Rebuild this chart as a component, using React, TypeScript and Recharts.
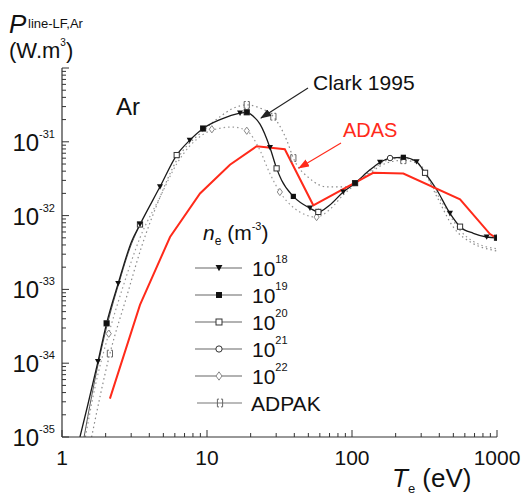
import React from 'react';
import { ComposedChart, Line, Scatter, XAxis, YAxis } from 'recharts';

// ---- data: T (eV) and log10(P) (W.m3) ----
const clarkT = [1.33, 1.5, 1.77, 2.03, 2.44, 3.02, 3.45, 4.74, 6.18, 7.6, 9.4, 12.3, 16.9, 18.8, 21, 23.2, 27.2, 30.2, 32.7, 39.4, 51.3, 58.6, 70, 87, 105, 133, 156, 183, 226, 279, 319, 384, 474, 556, 687, 849, 1000];
const clarkLogP = [-35.0, -34.58, -33.98, -33.46, -32.92, -32.35, -32.12, -31.61, -31.18, -30.98, -30.82, -30.70, -30.61, -30.60, -30.66, -30.76, -31.08, -31.36, -31.52, -31.74, -31.90, -31.95, -31.86, -31.68, -31.56, -31.38, -31.28, -31.22, -31.21, -31.27, -31.42, -31.65, -31.97, -32.15, -32.24, -32.29, -32.30];

const hiDensT = [1.42, 1.6, 1.85, 2.1, 2.44, 3.02, 3.45];
const hiDensLogP = [-35.0, -34.45, -33.85, -33.4, -32.95, -32.38, -32.13];

const adasT = [2.14, 3.45, 5.56, 8.95, 14.4, 22, 34.4, 54.1, 140, 226, 556, 895, 1000];
const adasLogP = [-34.48, -33.21, -32.29, -31.70, -31.31, -31.06, -31.10, -31.86, -31.42, -31.43, -31.78, -32.25, -32.31];

const adpakT = [1.6, 2.14, 2.79, 3.5, 4.74, 6.18, 9.4, 12.3, 15, 18.8, 23, 28.7, 35.5, 39.4, 51.3, 66.8, 92, 126, 172, 226, 293, 384, 497, 687, 944, 1000];
const adpakLogP = [-35.0, -33.87, -33.1, -32.45, -31.75, -31.25, -30.85, -30.66, -30.55, -30.50, -30.54, -30.66, -30.98, -31.22, -31.50, -31.61, -31.61, -31.45, -31.29, -31.25, -31.31, -31.74, -32.15, -32.38, -32.47, -32.48];

const n22T = [1.45, 1.7, 2.1, 2.6, 3.45, 4.74, 6.18, 9.4, 12, 15, 18.8, 23, 27, 31.8, 40, 57, 70, 87, 105, 133, 183, 226, 279, 319, 384, 474, 556, 687, 1000];
const n22LogP = [-35.0, -34.3, -33.6, -33.0, -32.3, -31.75, -31.3, -30.9, -30.82, -30.80, -30.85, -31.1, -31.42, -31.68, -31.9, -32.02, -31.92, -31.72, -31.58, -31.40, -31.24, -31.22, -31.28, -31.44, -31.7, -32.0, -32.2, -32.35, -32.45];

// marker positions
const n18MarkT = [1.77, 2.44, 3.45, 4.74, 7.6, 16.9, 27.2, 51.3, 87, 156, 279, 474, 849];
const n18MarkLogP = [-33.98, -32.92, -32.12, -31.61, -30.98, -30.61, -31.08, -31.90, -31.68, -31.28, -31.27, -31.97, -32.29];
const n19MarkT = [2.03, 9.4, 18.8, 39.4, 105, 226, 1000];
const n19MarkLogP = [-33.46, -30.82, -30.60, -31.74, -31.56, -31.21, -32.30];
const n20MarkT = [2.03, 3.45, 6.18, 9.4, 18.8, 30.2, 58.6, 105, 319, 556, 1000];
const n20MarkLogP = [-33.46, -32.12, -31.18, -30.82, -30.60, -31.36, -31.95, -31.56, -31.42, -32.15, -32.30];
const n21MarkT = [58.6, 183, 1000];
const n21MarkLogP = [-31.95, -31.22, -32.30];
const n22MarkT = [2.1, 10.8, 18.8, 31.8, 57];
const n22MarkLogP = [-33.6, -30.83, -30.85, -31.68, -32.02];
const adpakMarkT = [2.14, 18.8, 28.7, 39.4, 226];
const adpakMarkLogP = [-33.87, -30.50, -30.66, -31.22, -31.25];

const xMajor = [1, 10, 100, 1000];
const xTickLabels = ['1', '10', '100', '1000'];
const yMajorExp = [-35, -34, -33, -32, -31, -30];
const yTickExpLabels = ['-35', '-34', '-33', '-32', '-31', '-30'];
const yLabelShown = [-35, -34, -33, -32, -31];

const legendLabels = ['18', '19', '20', '21', '22'];

const toRows = (t: number[], lp: number[]) => t.map((T, i) => ({ T, P: Math.pow(10, lp[i]) }));

const xTicks: number[] = [];
xMajor.forEach((d, i) => {
  if (i === xMajor.length - 1) { xTicks.push(d); return; }
  for (let m = 1; m < 10; m++) xTicks.push(Math.round(d * m * 1000) / 1000);
});
const yTicks: number[] = [];
yMajorExp.forEach((e, i) => {
  if (i === yMajorExp.length - 1) { yTicks.push(Math.pow(10, e)); return; }
  for (let m = 1; m < 10; m++) yTicks.push(m * Math.pow(10, e));
});

const isMajor = (v: number) => Math.abs(Math.log10(v) - Math.round(Math.log10(v))) < 1e-6;

const FONT = '"Liberation Sans", Arial, Helvetica, sans-serif';

const XTickB = (p: any) => {
  const { x, y, payload } = p;
  const v = payload.value;
  const maj = isMajor(v);
  const idx = xMajor.indexOf(Math.round(v));
  return (
    <g>
      <line x1={x} x2={x} y1={y} y2={y - (maj ? 7 : 4)} stroke="#333" strokeWidth={1} />
      {maj && idx >= 0 && (
        <text x={x} y={y + 28} textAnchor="middle" fontSize={21} fill="#111" fontFamily={FONT}>{xTickLabels[idx]}</text>
      )}
    </g>
  );
};
const XTickT = (p: any) => {
  const { x, y, payload } = p;
  const maj = isMajor(payload.value);
  return <line x1={x} x2={x} y1={y} y2={y + (maj ? 7 : 4)} stroke="#333" strokeWidth={1} />;
};
const YTickL = (p: any) => {
  const { x, y, payload } = p;
  const v = payload.value;
  const maj = isMajor(v);
  const e = Math.round(Math.log10(v));
  const idx = yMajorExp.indexOf(e);
  return (
    <g>
      <line x1={x} x2={x + (maj ? 7 : 4)} y1={y} y2={y} stroke="#333" strokeWidth={1} />
      {maj && yLabelShown.includes(e) && (
        <text x={x - 7} y={y + 9} textAnchor="end" fill="#111" fontFamily={FONT}>
          <tspan fontSize={24}>10</tspan>
          <tspan fontSize={11} dy={-13}>{yTickExpLabels[idx]}</tspan>
        </text>
      )}
    </g>
  );
};
const YTickR = (p: any) => {
  const { x, y, payload } = p;
  const maj = isMajor(payload.value);
  return <line x1={x} x2={x - (maj ? 7 : 4)} y1={y} y2={y} stroke="#333" strokeWidth={1} />;
};

type Kind = 'tri' | 'sqf' | 'sqo' | 'cir' | 'dia' | 'brk';
const Marker = ({ kind, cx, cy, s = 1 }: { kind: Kind; cx: number; cy: number; s?: number }) => {
  if (cx == null || cy == null || isNaN(cx) || isNaN(cy)) return <g />;
  const a = 2.6 * s;
  switch (kind) {
    case 'tri':
      return <polygon points={`${cx - a * 1.15},${cy - a} ${cx + a * 1.15},${cy - a} ${cx},${cy + a * 1.1}`} fill="#111" />;
    case 'sqf':
      return <rect x={cx - a} y={cy - a} width={2 * a} height={2 * a} fill="#111" />;
    case 'sqo':
      return <rect x={cx - a} y={cy - a} width={2 * a} height={2 * a} fill="#fff" stroke="#333" strokeWidth={1} />;
    case 'cir':
      return <circle cx={cx} cy={cy} r={a * 1.05} fill="#fff" stroke="#333" strokeWidth={1} />;
    case 'dia':
      return <polygon points={`${cx},${cy - a * 1.4} ${cx + a},${cy} ${cx},${cy + a * 1.4} ${cx - a},${cy}`} fill="#fff" stroke="#888" strokeWidth={1} />;
    default:
      return <path d={`M${cx - 1},${cy - a * 1.3} h-1.6 v${a * 2.6} h1.6 M${cx + 1},${cy - a * 1.3} h1.6 v${a * 2.6} h-1.6`} fill="none" stroke="#666" strokeWidth={1} />;
  }
};

const shapeOf = (kind: Kind) => (props: any) => <Marker kind={kind} cx={props.cx} cy={props.cy} />;

const legendKinds: Kind[] = ['tri', 'sqf', 'sqo', 'cir', 'dia'];

export default function App() {
  const W = 524, H = 496;
  const common = { xAxisId: 'b', yAxisId: 'l', isAnimationActive: false } as const;
  return (
    <div style={{ position: 'absolute', left: 0, top: 0, width: W, height: H, background: '#fff', fontFamily: FONT }}>
      <ComposedChart width={W} height={H} margin={{ top: 68, right: 27, bottom: 0, left: 0 }}>
        <XAxis xAxisId="b" orientation="bottom" type="number" dataKey="T" scale="log" domain={[1, 1000]} allowDataOverflow
          ticks={xTicks} interval={0} tick={XTickB} tickLine={false} tickSize={0} tickMargin={0} height={59}
          axisLine={{ stroke: '#333', strokeWidth: 1.2 }} />
        <XAxis xAxisId="t" orientation="top" type="number" dataKey="T" scale="log" domain={[1, 1000]} allowDataOverflow
          ticks={xTicks} interval={0} tick={XTickT} tickLine={false} tickSize={0} tickMargin={0} height={0}
          axisLine={{ stroke: '#333', strokeWidth: 1.2 }} />
        <YAxis yAxisId="l" orientation="left" type="number" dataKey="P" scale="log" domain={[1e-35, 1e-30]} allowDataOverflow
          ticks={yTicks} interval={0} tick={YTickL} tickLine={false} tickSize={0} tickMargin={0} width={62}
          axisLine={{ stroke: '#333', strokeWidth: 1.2 }} />
        <YAxis yAxisId="r" orientation="right" type="number" dataKey="P" scale="log" domain={[1e-35, 1e-30]} allowDataOverflow
          ticks={yTicks} interval={0} tick={YTickR} tickLine={false} tickSize={0} tickMargin={0} width={0}
          axisLine={{ stroke: '#333', strokeWidth: 1.2 }} />

        <Line {...common} data={toRows(adpakT, adpakLogP)} dataKey="P" type="monotone" stroke="#8a8a8a" strokeWidth={1.2} strokeDasharray="1.5 3" dot={false} />
        <Line {...common} data={toRows(n22T, n22LogP)} dataKey="P" type="monotone" stroke="#9a9a9a" strokeWidth={1.2} strokeDasharray="1.5 3" dot={false} />
        <Line {...common} data={toRows(hiDensT, hiDensLogP)} dataKey="P" type="monotone" stroke="#444" strokeWidth={0.9} dot={false} />
        <Line {...common} data={toRows(clarkT, clarkLogP)} dataKey="P" type="monotone" stroke="#1a1a1a" strokeWidth={1.3} dot={false} />
        <Line {...common} data={toRows(adasT, adasLogP)} dataKey="P" type="linear" stroke="#ff2a1a" strokeWidth={2} dot={false} />

        <Scatter {...common} data={toRows(adpakMarkT, adpakMarkLogP)} shape={shapeOf('brk')} />
        <Scatter {...common} data={toRows(n22MarkT, n22MarkLogP)} shape={shapeOf('dia')} />
        <Scatter {...common} data={toRows(n21MarkT, n21MarkLogP)} shape={shapeOf('cir')} />
        <Scatter {...common} data={toRows(n20MarkT, n20MarkLogP)} shape={shapeOf('sqo')} />
        <Scatter {...common} data={toRows(n19MarkT, n19MarkLogP)} shape={shapeOf('sqf')} />
        <Scatter {...common} data={toRows(n18MarkT, n18MarkLogP)} shape={shapeOf('tri')} />
      </ComposedChart>

      <svg width={W} height={H} style={{ position: 'absolute', left: 0, top: 0, pointerEvents: 'none' }} fontFamily={FONT}>
        <defs>
          <marker id="ahk" markerUnits="userSpaceOnUse" markerWidth={11} markerHeight={8} refX={10} refY={4} orient="auto">
            <path d="M0,0 L11,4 L0,8 z" fill="#222" />
          </marker>
          <marker id="ahr" markerUnits="userSpaceOnUse" markerWidth={11} markerHeight={8} refX={10} refY={4} orient="auto">
            <path d="M0,0 L11,4 L0,8 z" fill="#ff2a1a" />
          </marker>
        </defs>
        {/* y title */}
        <text x={9} y={33} fontSize={26} fontStyle="italic" fill="#111">P</text>
        <text x={28} y={28} fontSize={13} fill="#111">line-LF,Ar</text>
        <text x={9} y={58} fontSize={22} fill="#111">(W.m<tspan fontSize={10} dy={-12}>3</tspan><tspan dy={12}>)</tspan></text>
        {/* x title */}
        <text x={392} y={487} fontSize={26} fill="#111"><tspan fontStyle="italic">T</tspan><tspan fontSize={13} dy={6}>e</tspan><tspan dy={-6}> (eV)</tspan></text>
        {/* annotations */}
        <text x={116} y={115} fontSize={24} fill="#111">Ar</text>
        <text x={313} y={90} fontSize={21} fill="#111">Clark 1995</text>
        <line x1={308} y1={88} x2={261} y2={118} stroke="#222" strokeWidth={1.1} markerEnd="url(#ahk)" />
        <text x={343} y={137} fontSize={20} fill="#ff2a1a">ADAS</text>
        <line x1={341} y1={143} x2={299} y2={168} stroke="#ff2a1a" strokeWidth={1.1} markerEnd="url(#ahr)" />
        {/* legend */}
        <text x={203} y={240} fontSize={21} fill="#111"><tspan fontStyle="italic">n</tspan><tspan fontSize={12} dy={5}>e</tspan><tspan dy={-5}> (m</tspan><tspan fontSize={11} dy={-10}>-3</tspan><tspan dy={10}>)</tspan></text>
        {legendLabels.map((lab, i) => {
          const cy = 268 + i * 27;
          return (
            <g key={lab}>
              <line x1={195} x2={242} y1={cy} y2={cy} stroke="#666" strokeWidth={1.2} />
              <Marker kind={legendKinds[i]} cx={219} cy={cy} s={1.15} />
              <text x={252} y={cy + 8} fill="#111"><tspan fontSize={21}>10</tspan><tspan fontSize={11} dy={-13}>{lab}</tspan></text>
            </g>
          );
        })}
        <g>
          <line x1={197} x2={242} y1={403} y2={403} stroke="#777" strokeWidth={1.2} />
          <Marker kind="brk" cx={220} cy={403} s={1.15} />
          <text x={251} y={411} fontSize={21} fill="#111">ADPAK</text>
        </g>
      </svg>
    </div>
  );
}
